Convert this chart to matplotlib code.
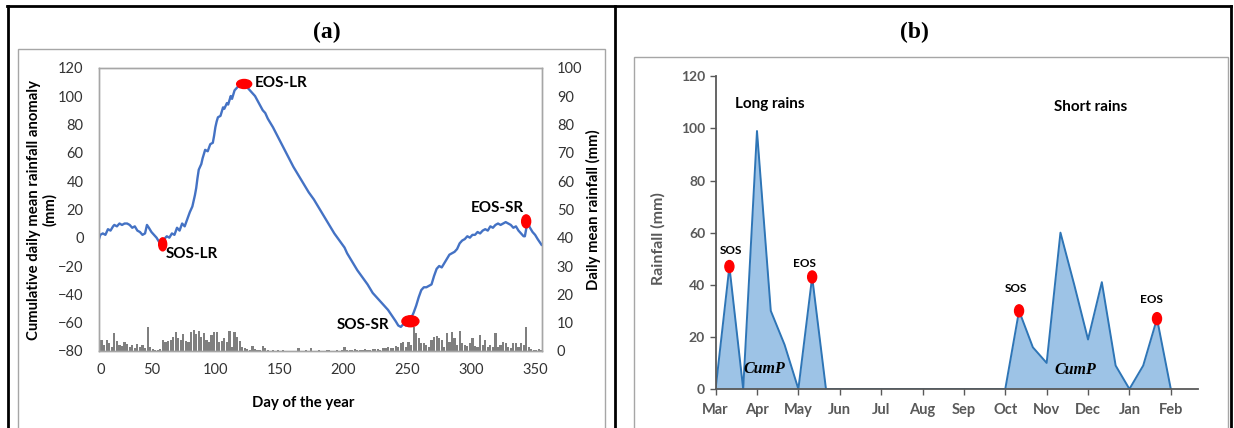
import matplotlib
matplotlib.use('Agg')
import matplotlib.pyplot as plt
from matplotlib.patches import Ellipse, Rectangle
from matplotlib.lines import Line2D
import numpy as np

plt.rcParams['font.family'] = ['Lato', 'DejaVu Sans']

# ---- panel (a): cumulative daily mean rainfall anomaly
anom_day = [9, 10, 12, 14, 16, 18, 20, 21, 23, 25,
            27, 29, 31, 33, 35, 37, 39, 41, 43, 45,
            46.5, 48, 50, 52, 54, 56, 58, 60, 62, 64,
            66, 68, 70, 72, 74, 76, 78, 80, 82, 84,
            85, 86, 87, 89, 90, 92, 94, 96, 98, 99,
            100, 101, 102, 104, 106, 107, 109, 110, 112, 113,
            115, 117, 119, 121, 123, 125, 128, 131, 134, 137,
            139, 141, 145, 149, 153, 157, 161, 165, 169, 173,
            177, 181, 185, 189, 193, 197, 201, 203, 207, 211,
            215, 219, 223, 227, 231, 235, 238, 241, 243, 245,
            247, 249, 251, 253, 255, 257, 259, 261, 263, 265,
            267, 269, 271, 273, 275, 277, 279, 281, 283, 285,
            287, 289, 291, 293, 295, 297, 299, 301, 303, 305,
            307, 309, 311, 313, 315, 317, 319, 321, 323, 325,
            327, 329, 331, 333, 335, 337, 339, 341, 342, 344,
            346, 348, 350, 352, 355]
anom_mm = [-1, 2, 3, 2, 6, 5, 8, 9, 8, 10,
           9, 10, 10, 9, 7, 8, 5, 4, 2, 3,
           9, 7, 4, 2, 0, -3, -5, -1, 1, 0,
           3, 2, 7, 5, 10, 8, 13, 18, 22, 30,
           35, 42, 48, 52, 56, 62, 61, 66, 67, 72,
           78, 82, 85, 86, 92, 91, 95, 94, 100, 98,
           104, 106, 108, 110, 108, 106, 103, 100, 95, 90,
           88, 84, 78, 71, 64, 57, 50, 44, 38, 32,
           27, 21, 15, 9, 3, -2, -7, -11, -17, -23,
           -28, -33, -39, -43, -47, -51, -55, -59, -62, -63,
           -61, -62, -60, -57, -53, -48, -42, -37, -35, -35,
           -34, -33, -27, -22, -20, -21, -18, -15, -12, -11,
           -10, -8, -4, -2, -1, 1, 0, 2, 2, 4,
           3, 5, 6, 5, 8, 7, 9, 10, 9, 10,
           11, 10, 9, 7, 8, 5, 3, 1, 1, 11,
           7, 4, 2, -1, -5]

# daily mean rainfall (mm), one value per 2 days from day 9 to day 355
daily_mm = [5.6, 3.9, 2.0, 3.9, 3.0, 1.5, 6.2,
            3.5, 2.0, 1.8, 3.3, 2.5, 1.5, 2.2, 1.0, 2.5, 1.5, 2.0, 1.0,
            8.6,
            1.5, 0.6, 0.3, 0.5, 0.8,
            3.9, 3.3, 3.5, 3.9, 5.0, 6.6, 4.5, 4.0, 6.0, 3.6, 3.3,
            6.8, 7.4, 6.0, 7.2,
            5.0, 6.2, 4.0, 3.3, 5.5, 6.8, 6.8, 3.3, 3.5, 4.5, 3.3, 7.2, 1.5,
            6.8, 5.0, 3.5, 1.5, 1.0, 0.8, 0.4, 1.8,
            0.8, 0.4, 0.2, 1.8, 1.2, 0.2, 0.1, 0.3, 0.1, 0.2, 0.1, 0.2, 0.1,
            0.0, 0.1, 0.0, 0.1, 0.9, 0.1, 0.0, 0.2, 0.1, 0.9, 0.0, 0.1, 0.2,
            0.0, 0.1, 0.3, 0.2, 0.1, 0.0, 0.2, 0.1, 0.3,
            1.5, 0.3, 0.2, 0.4, 0.6, 0.3, 0.5, 0.2, 0.6, 0.4, 0.5, 0.8, 0.6,
            0.8, 0.5, 1.2, 0.9, 1.5, 1.0, 1.2,
            1.8, 1.5, 2.7, 3.3, 1.5, 3.3, 2.0, 8.6, 6.2, 4.5, 2.7,
            2.7, 2.0, 1.5, 3.9, 5.0, 5.2, 4.5, 3.9, 1.5, 6.2, 3.3, 6.8, 4.5,
            2.0, 7.2, 2.7, 2.0, 1.8, 2.7, 4.5, 1.8, 1.5, 5.6, 2.0, 3.9, 1.5,
            2.0, 1.5, 6.2, 1.5, 2.0, 3.3, 3.0, 1.5, 1.0, 2.7, 2.7, 1.5, 2.7,
            2.0, 8.6, 1.5, 0.6, 0.3, 0.3, 0.6, 0.4]

event_names = ['SOS-LR', 'EOS-LR', 'SOS-SR', 'EOS-SR']
event_day = [58.8, 122.5, 252.5, 343]
event_mm = [-4.7, 108.5, -59, 11.5]

# ---- panel (b): dekadal rainfall, Mar to Feb
months = ['Mar', 'Apr', 'May', 'Jun', 'Jul', 'Aug', 'Sep', 'Oct', 'Nov', 'Dec', 'Jan', 'Feb']
dekad_mm = [0, 47, 0, 99, 30, 17, 0, 43, 0,
            0, 0, 0, 0, 0, 0, 0, 0, 0, 0, 0, 0,
            0, 30, 16, 10, 60, 40, 19, 41, 9, 0, 9, 27, 0]
onset_idx = [1, 7, 22, 32]

W, H = 1234, 428
fig = plt.figure(figsize=(W / 100, H / 100), dpi=100)


def fx(px):
    return px / W


def fy(py):
    return 1 - py / H


def axes_px(x0, y0, x1, y1):
    return fig.add_axes([fx(x0), fy(y1), (x1 - x0) / W, (y1 - y0) / H])


def ellipse(axis, x, y, w_px, h_px):
    x0, x1 = axis.get_xlim()
    y0, y1 = axis.get_ylim()
    bb = axis.get_position()
    sx = bb.width * W / (x1 - x0)
    sy = bb.height * H / (y1 - y0)
    axis.add_patch(Ellipse((x, y), w_px / sx, h_px / sy, color='#ff0000',
                           zorder=6, clip_on=False))


# frames around the two panels
for x0, x1, y0, y1 in [(7, 1231, 6, 6), (7.5, 7.5, 6, 428), (614.5, 614.5, 6, 428),
                       (1231, 1231, 6, 428)]:
    fig.add_artist(Line2D([fx(x0), fx(x1)], [fy(y0), fy(y1)], color='black', lw=2))
for x0, y0, x1 in [(18, 49, 605), (634, 57, 1228)]:
    fig.add_artist(Rectangle((fx(x0), fy(440)), fx(x1) - fx(x0), fy(y0) - fy(440),
                             transform=fig.transFigure, fill=False,
                             edgecolor='#a6a6a6', lw=1))

fig.text(fx(327), fy(32), '(a)', family='Liberation Serif', fontsize=17,
         fontweight='bold', ha='center', va='center')
fig.text(fx(914), fy(32), '(b)', family='Liberation Serif', fontsize=17,
         fontweight='bold', ha='center', va='center')

# ---------------- panel (a)
ax = axes_px(99, 67.7, 541.5, 351)
ax2 = ax.twinx()
days = 9 + 2 * np.arange(len(daily_mm))
ax2.bar(days, daily_mm, width=1.7, color='#7f7f7f', linewidth=0)
ax2.set_ylim(0, 100)
ax2.set_yticks(range(0, 101, 10))

ax.set_zorder(ax2.get_zorder() + 1)
ax.patch.set_visible(False)
ax.plot(anom_day, anom_mm, color='#4472c4', lw=1.7)
ax.set_xlim(9, 355)
ax.set_ylim(-80, 120)
ax.set_yticks(range(-80, 121, 20))
ax.set_xticks([10.5, 50, 100, 150, 200, 250, 300, 350])
ax.set_xticklabels(['0', '50', '100', '150', '200', '250', '300', '350'])
for a in (ax, ax2):
    for s in a.spines.values():
        s.set_color('#a6a6a6')
        s.set_linewidth(1)
    a.tick_params(length=0, labelsize=10.5, colors='#333333')
ax.tick_params(axis='y', pad=11)
ax.tick_params(axis='x', pad=9)
ax2.tick_params(axis='y', pad=11)

ellipse(ax, event_day[0], event_mm[0], 8, 13)
ellipse(ax, event_day[1], event_mm[1], 15, 9)
ellipse(ax, event_day[2], event_mm[2], 17, 11)
ellipse(ax, event_day[3], event_mm[3], 9, 13)
ax.text(61.3, -11.5, event_names[0], fontsize=11, fontweight='bold', va='center')
ax.text(131, 109.4, event_names[1], fontsize=11, fontweight='bold', va='center')
ax.text(195, -61.6, event_names[2], fontsize=11, fontweight='bold', va='center')
ax.text(300, 20.7, event_names[3], fontsize=11, fontweight='bold', va='center')

fig.text(fx(42), fy(210), 'Cumulative daily mean rainfall anomaly\n(mm)', rotation=90,
         fontsize=10.7, fontweight='bold', ha='center', va='center',
         multialignment='center', linespacing=1.2)
fig.text(fx(593), fy(210), 'Daily mean rainfall (mm)', rotation=90,
         fontsize=10.7, fontweight='bold', ha='center', va='center')
fig.text(fx(303), fy(403), 'Day of the year', fontsize=10.7, fontweight='bold',
         ha='center', va='center')

# ---------------- panel (b)
bx = axes_px(715.6, 76.3, 1197.7, 389)
xd = np.arange(len(dekad_mm)) / 3
bx.fill_between(xd, dekad_mm, 0, color='#9dc3e6', lw=0)
bx.plot(xd, dekad_mm, color='#2e75b6', lw=1.4)
bx.set_xlim(0, 11.65)
bx.set_ylim(0, 120)
bx.set_xticks(range(len(months)))
bx.set_xticklabels(months)
bx.set_yticks(range(0, 121, 20))
bx.spines['top'].set_visible(False)
bx.spines['right'].set_visible(False)
for s in ('left', 'bottom'):
    bx.spines[s].set_color('#595959')
    bx.spines[s].set_linewidth(1.3)
bx.tick_params(direction='out', length=4, width=1, color='#595959',
               labelcolor='#595959', labelsize=10)
bx.tick_params(axis='x', pad=6, labelsize=10.5)
for lab in bx.get_xticklabels() + bx.get_yticklabels():
    lab.set_fontweight('bold')

for i in onset_idx:
    ellipse(bx, xd[i], dekad_mm[i], 9, 12)
for txt, x, y in [('SOS', 0.37, 53.3), ('EOS', 2.14, 48.3), ('SOS', 7.27, 38.7),
                  ('EOS', 10.53, 34.5)]:
    bx.text(x, y, txt, fontsize=8.5, fontweight='bold', ha='center', va='center')
bx.text(1.30, 109.4, 'Long rains', fontsize=11, fontweight='bold', ha='center', va='center')
bx.text(9.06, 108.2, 'Short rains', fontsize=11, fontweight='bold', ha='center', va='center')
for x, y in [(1.18, 7.5), (8.70, 7.3)]:
    bx.text(x, y, 'CumP', family='Liberation Serif', fontsize=11.5, fontstyle='italic',
            fontweight='bold', ha='center', va='center')

fig.text(fx(658), fy(239), 'Rainfall (mm)', rotation=90, fontsize=11.5,
         fontweight='bold', color='#595959', ha='center', va='center')

fig.savefig('out.png', dpi=100)
